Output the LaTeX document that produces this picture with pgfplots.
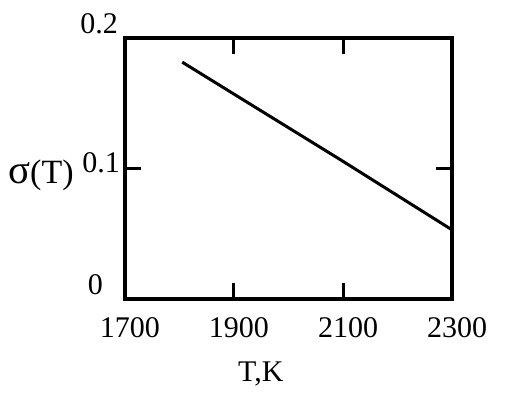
\documentclass[border=0pt]{standalone}
\usepackage{fontspec}
\setmainfont{Liberation Serif}
\usepackage{graphicx}
\usepackage{pgfplots}
\pgfplotsset{compat=1.18}
\begin{document}
\begin{tikzpicture}[font=\fontsize{30}{34}\selectfont]
\begin{axis}[
  at={(0,0)}, anchor=south west,
  scale only axis,
  width=327pt, height=261pt,
  xmin=1700, xmax=2300, ymin=0, ymax=0.2,
  xtick={1700,1900,2100,2300},
  ytick={0,0.1,0.2},
  xticklabels={1700,1900,2100,2300},
  yticklabel={\ifcase\ticknum\raisebox{5pt}{0}\kern22pt\or\raisebox{-4pt}{0.1}\kern5pt\or\raisebox{5pt}{0.2}\kern7pt\fi},
  yticklabel style={anchor=base east, inner sep=0pt, xshift=0pt},
  xticklabel style={anchor=base, inner sep=0pt, yshift=-38pt, xshift=5pt},
  tick align=inside,
  major tick length=16pt,
  every tick/.style={black, line width=3pt},
  axis line style={line width=3.5pt, black},
  xlabel={T,K},
  ylabel={\fontsize{34}{38}\selectfont\scalebox{1.2}{σ}(T)},
  xlabel style={at={(axis description cs:0.3456,-0.3142)}, anchor=base west, inner sep=0pt},
  ylabel style={rotate=-90, at={(axis description cs:-0.3578,0.4444)}, anchor=base west, inner sep=0pt},
]
\addplot[black, line width=3pt] coordinates {(1805,0.1815) (1900,0.157) (2100,0.1055) (2300,0.053)};
\end{axis}
\path[use as bounding box] (-125pt,-95pt) rectangle (381pt,299pt);
\end{tikzpicture}
\end{document}
